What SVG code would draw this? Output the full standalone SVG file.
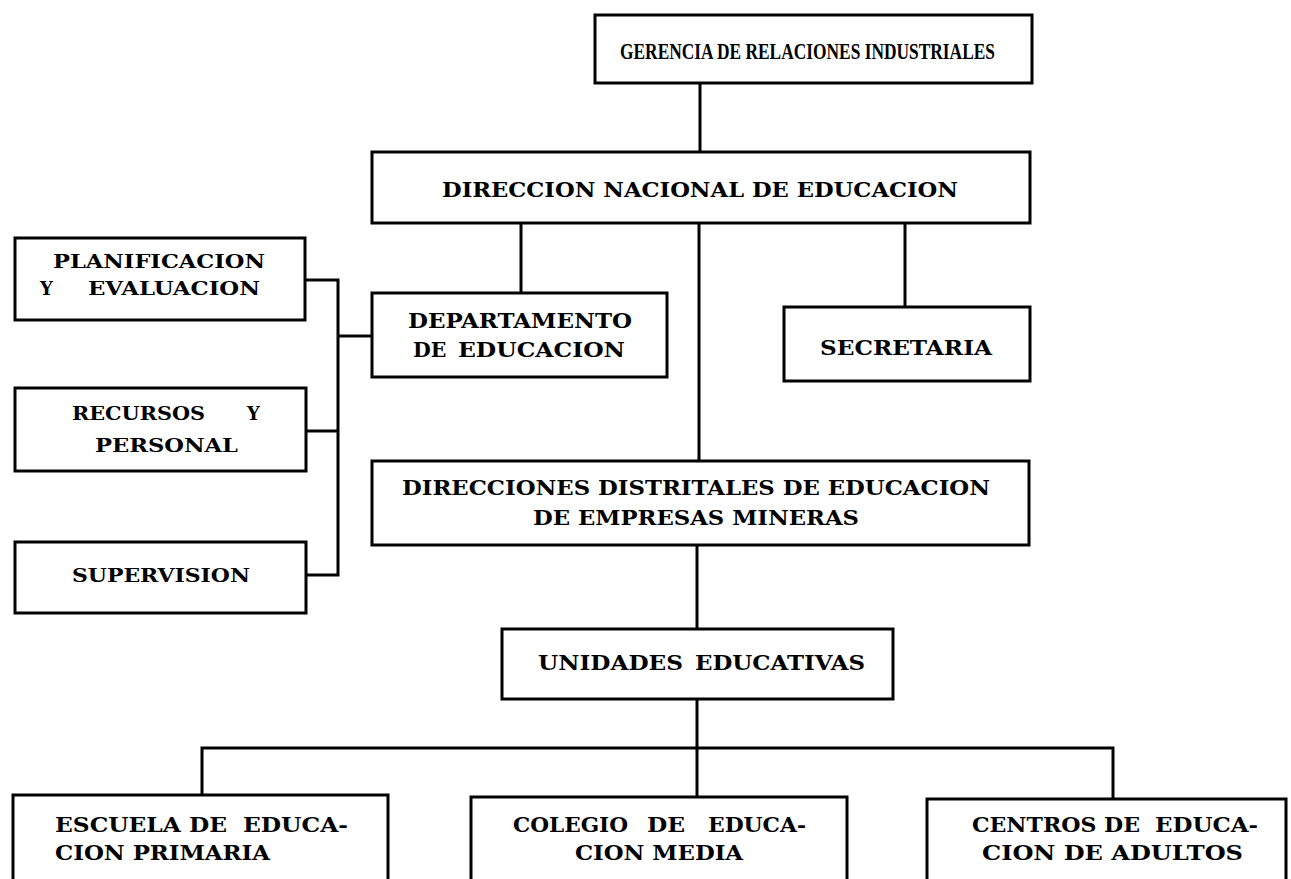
<svg xmlns="http://www.w3.org/2000/svg" width="1291" height="879" viewBox="0 0 1291 879">
<style>
.box{fill:#fff;stroke:#000;stroke-width:3}
.c{stroke:#000;stroke-width:3;fill:none;stroke-linecap:square}
text{font-family:"DejaVu Serif","Liberation Serif",serif;font-weight:bold;font-size:20.5px;fill:#000}
.s{font-size:18px}
.n{font-family:"Liberation Serif","DejaVu Serif",serif;font-size:24px}
</style>
<rect width="1291" height="879" fill="#fff"/>
<g id="connectors">
<path class="c" d="M700 83V152M521 223V293M699 223V461M905 223V307"/>
<path class="c" d="M305 280H338V575M306 431H338M306 575H338M338 336H372"/>
<path class="c" d="M697 545V629M697 699V797M202 748H1113M202 748V795M1113 748V799"/>
</g>
<g id="n1"><rect class="box" x="595" y="15" width="437" height="68"/>
<text class="n" x="620" y="59" textLength="375" lengthAdjust="spacingAndGlyphs">GERENCIA DE RELACIONES INDUSTRIALES</text></g>
<g id="n2"><rect class="box" x="372" y="152" width="658" height="71"/>
<text x="442" y="197" textLength="516" lengthAdjust="spacingAndGlyphs">DIRECCION NACIONAL DE EDUCACION</text></g>
<g id="n3"><rect class="box" x="372" y="293" width="295" height="84"/>
<text x="408" y="328" textLength="224" lengthAdjust="spacingAndGlyphs">DEPARTAMENTO</text>
<text y="357"><tspan x="413">DE</tspan><tspan x="458" textLength="167" lengthAdjust="spacingAndGlyphs">EDUCACION</tspan></text></g>
<g id="n4"><rect class="box" x="784" y="307" width="246" height="74"/>
<text x="820" y="355" textLength="172" lengthAdjust="spacingAndGlyphs">SECRETARIA</text></g>
<g id="n5"><rect class="box" x="15" y="238" width="290" height="82"/>
<text class="s" x="53" y="268" textLength="212" lengthAdjust="spacingAndGlyphs">PLANIFICACION</text>
<text class="s" y="295"><tspan x="40">Y</tspan><tspan x="88" textLength="172" lengthAdjust="spacingAndGlyphs">EVALUACION</tspan></text></g>
<g id="n6"><rect class="box" x="15" y="388" width="291" height="83"/>
<text class="s" y="420"><tspan x="72" textLength="133" lengthAdjust="spacingAndGlyphs">RECURSOS</tspan><tspan x="247">Y</tspan></text>
<text class="s" x="95" y="452" textLength="143" lengthAdjust="spacingAndGlyphs">PERSONAL</text></g>
<g id="n7"><rect class="box" x="15" y="542" width="291" height="71"/>
<text class="s" x="72" y="582" textLength="178" lengthAdjust="spacingAndGlyphs">SUPERVISION</text></g>
<g id="n8"><rect class="box" x="372" y="461" width="657" height="84"/>
<text x="402" y="495" textLength="588" lengthAdjust="spacingAndGlyphs">DIRECCIONES DISTRITALES DE EDUCACION</text>
<text x="533" y="525" textLength="326" lengthAdjust="spacingAndGlyphs">DE EMPRESAS MINERAS</text></g>
<g id="n9"><rect class="box" x="502" y="629" width="391" height="70"/>
<text y="670"><tspan x="538" textLength="145" lengthAdjust="spacingAndGlyphs">UNIDADES</tspan><tspan x="695" textLength="170" lengthAdjust="spacingAndGlyphs">EDUCATIVAS</tspan></text></g>
<g id="n10"><rect class="box" x="13" y="795" width="375" height="100"/>
<text y="832"><tspan x="55" textLength="172" lengthAdjust="spacingAndGlyphs">ESCUELA DE</tspan><tspan x="243" textLength="105" lengthAdjust="spacingAndGlyphs">EDUCA-</tspan></text>
<text x="55" y="860" textLength="215" lengthAdjust="spacingAndGlyphs">CION PRIMARIA</text></g>
<g id="n11"><rect class="box" x="471" y="797" width="376" height="100"/>
<text y="832"><tspan x="513" textLength="115" lengthAdjust="spacingAndGlyphs">COLEGIO</tspan><tspan x="647" textLength="38" lengthAdjust="spacingAndGlyphs">DE</tspan><tspan x="708" textLength="98" lengthAdjust="spacingAndGlyphs">EDUCA-</tspan></text>
<text x="575" y="860" textLength="168" lengthAdjust="spacingAndGlyphs">CION MEDIA</text></g>
<g id="n12"><rect class="box" x="927" y="799" width="359" height="100"/>
<text y="832"><tspan x="972" textLength="168" lengthAdjust="spacingAndGlyphs">CENTROS DE</tspan><tspan x="1155" textLength="103" lengthAdjust="spacingAndGlyphs">EDUCA-</tspan></text>
<text x="982" y="860" textLength="261" lengthAdjust="spacingAndGlyphs">CION DE ADULTOS</text></g>
</svg>
